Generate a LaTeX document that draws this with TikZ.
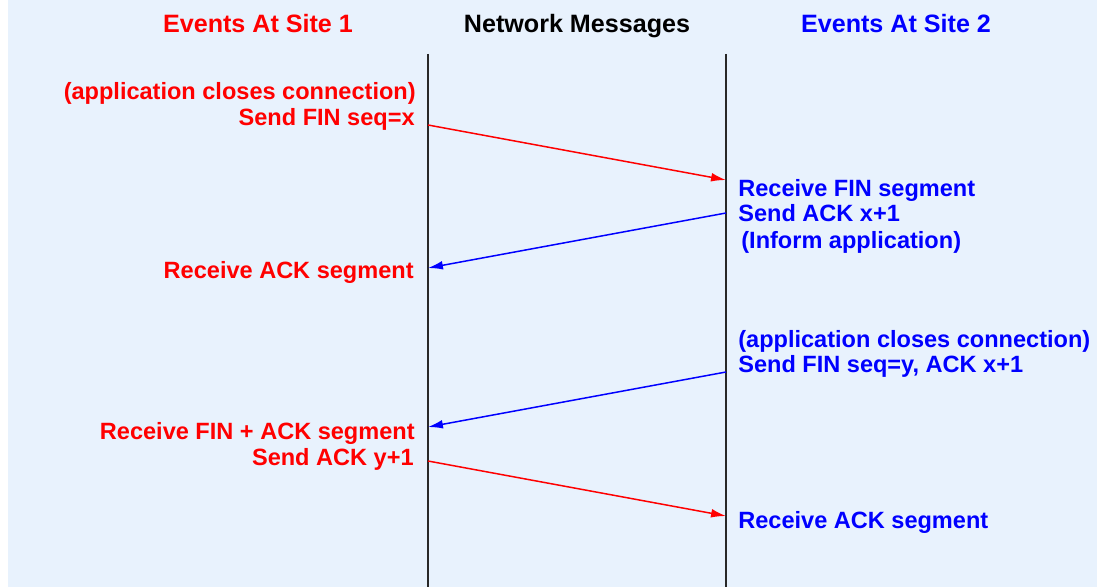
\documentclass[tikz,border=0pt]{standalone}
\usepackage{fontspec}
\setmainfont{Liberation Sans}
\usetikzlibrary{arrows.meta}
\definecolor{panel}{RGB}{232,242,253}
\definecolor{siteone}{RGB}{255,0,0}
\definecolor{sitetwo}{RGB}{0,0,255}
\definecolor{lifeline}{RGB}{40,40,40}
\tikzset{
  header/.style={inner sep=0pt, anchor=base, font=\fontsize{14.3pt}{16pt}\selectfont\bfseries},
  lefttxt/.style={inner sep=0pt, anchor=base east, text=siteone, font=\fontsize{13.4pt}{15pt}\selectfont\bfseries},
  righttxt/.style={inner sep=0pt, anchor=base west, text=sitetwo, font=\fontsize{13.4pt}{15pt}\selectfont\bfseries},
  life/.style={draw=lifeline, line width=1.1pt},
  msg/.style={line width=0.85pt, -{Latex[length=8.5pt,width=5pt]}},
}
\begin{document}
\begin{tikzpicture}[x=0.02cm, y=-0.02cm]
  % canvas
  \fill[white] (0,0) rectangle (1097,587);
  \fill[panel] (8,0) rectangle (1097,587);
  \useasboundingbox (0,0) rectangle (1097,587);

  % column headings
  \node[header, text=siteone] (h1) at (258,33) {Events At Site 1};
  \node[header, text=black]   (h2) at (577,33) {Network Messages};
  \node[header, text=sitetwo] (h3) at (896,33) {Events At Site 2};

  % lifelines
  \coordinate (lt) at (428,54);
  \coordinate (lb) at (428,587);
  \coordinate (rt) at (726,54);
  \coordinate (rb) at (726,587);
  \draw[life] (lt) -- (lb);
  \draw[life] (rt) -- (rb);

  % message end points on the lifelines
  \coordinate (m1s) at (428,125);
  \coordinate (m1e) at (726,180);
  \coordinate (m2s) at (726,213);
  \coordinate (m2e) at (428,268);
  \coordinate (m3s) at (726,372);
  \coordinate (m3e) at (428,427);
  \coordinate (m4s) at (428,461);
  \coordinate (m4e) at (726,516);

  % site 1 events
  \node[lefttxt] (a1) at (416,100) {(application closes connection)};
  \node[lefttxt] (a2) at (415,126) {Send FIN seq=x};
  \node[lefttxt] (a3) at (414,278) {Receive ACK segment};
  \node[lefttxt] (a4) at (415,439) {Receive FIN + ACK segment};
  \node[lefttxt] (a5) at (414,465) {Send ACK y+1};

  % site 2 events
  \node[righttxt] (b1) at (738,197) {Receive FIN segment};
  \node[righttxt] (b2) at (738,222) {Send ACK x+1};
  \node[righttxt] (b3) at (741,249) {(Inform application)};
  \node[righttxt] (b4) at (738,347) {(application closes connection)};
  \node[righttxt] (b5) at (738,372) {Send FIN seq=y, ACK x+1};
  \node[righttxt] (b6) at (738,528) {Receive ACK segment};

  % messages
  \draw[msg, siteone] (m1s) -- (m1e);
  \draw[msg, sitetwo] (m2s) -- (m2e);
  \draw[msg, sitetwo] (m3s) -- (m3e);
  \draw[msg, siteone] (m4s) -- (m4e);
\end{tikzpicture}
\end{document}
